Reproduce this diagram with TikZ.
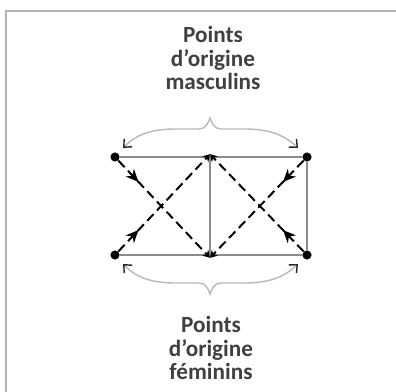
\documentclass[tikz,border=0pt]{standalone}
\usepackage{fontspec}
\setmainfont{Carlito}
\usetikzlibrary{arrows.meta,decorations.markings}

\begin{document}
\begin{tikzpicture}[x=0.025cm,y=-0.025cm,
  every node/.style={font=\fontsize{16.5}{16.5}\selectfont\bfseries, text=black!75},
  corner/.style={circle,fill=black,inner sep=0pt,minimum size=6.5pt},
  frameline/.style={black!45,line width=1.6pt},
  flow/.style={black,line width=1.4pt,dash pattern=on 6.5pt off 3.5pt,
    -{Stealth[length=5pt,width=6pt]},
    postaction={decorate,decoration={markings,
      mark=at position 0.22 with {\arrow{Stealth[length=9pt,width=8pt]}}}}},
  brace/.style={black!28,line width=1pt,
    {Straight Barb[length=4.5pt,width=8pt,black!85]}-{Straight Barb[length=4.5pt,width=8pt,black!85]}}]
  \useasboundingbox (0,0) rectangle (396,392);
  % Border
  \draw[black!30,line width=0.8pt] (6,392) -- (6,11) -- (396,11);

  % Corners of the frame
  \node[corner] (TL) at (115,157) {};
  \node[corner] (TR) at (307,157) {};
  \node[corner] (BL) at (115,255) {};
  \node[corner] (BR) at (307,255) {};
  \coordinate (TM) at (210,157);
  \coordinate (BM) at (210,255);

  % Frame
  \draw[frameline] (TL) -- (TR) -- (BR) -- (BL) -- cycle;
  \draw[frameline] (TM) -- (BM);

  % Crossing flows
  \draw[flow] (TL) -- ([yshift=-2pt]BM);
  \draw[flow] (BL) -- ([yshift=2pt]TM);
  \draw[flow] (TR) -- ([yshift=-2pt]BM);
  \draw[flow] (BR) -- ([yshift=2pt]TM);

  % Braces
  \coordinate (top) at (210,118);
  \coordinate (bot) at (210,294);
  \draw[brace] (123,148) .. controls (137,134) and (152,129) .. (176,129) -- (199,129)
    .. controls (205,129) and (208,124) .. (top)
    .. controls (212,124) and (215,129) .. (221,129) -- (244,129)
    .. controls (268,129) and (283,134) .. (298,148);
  \draw[brace] (123,264) .. controls (137,278) and (152,283) .. (176,283) -- (199,283)
    .. controls (205,283) and (208,288) .. (bot)
    .. controls (212,288) and (215,283) .. (221,283) -- (244,283)
    .. controls (268,283) and (283,278) .. (298,264);

  % Labels
  \node[align=center] (masc) at (213,58) {Points\\d'origine\\masculins};
  \node[align=center] (fem) at (211,348) {Points\\d'origine\\féminins};
\end{tikzpicture}
\end{document}
